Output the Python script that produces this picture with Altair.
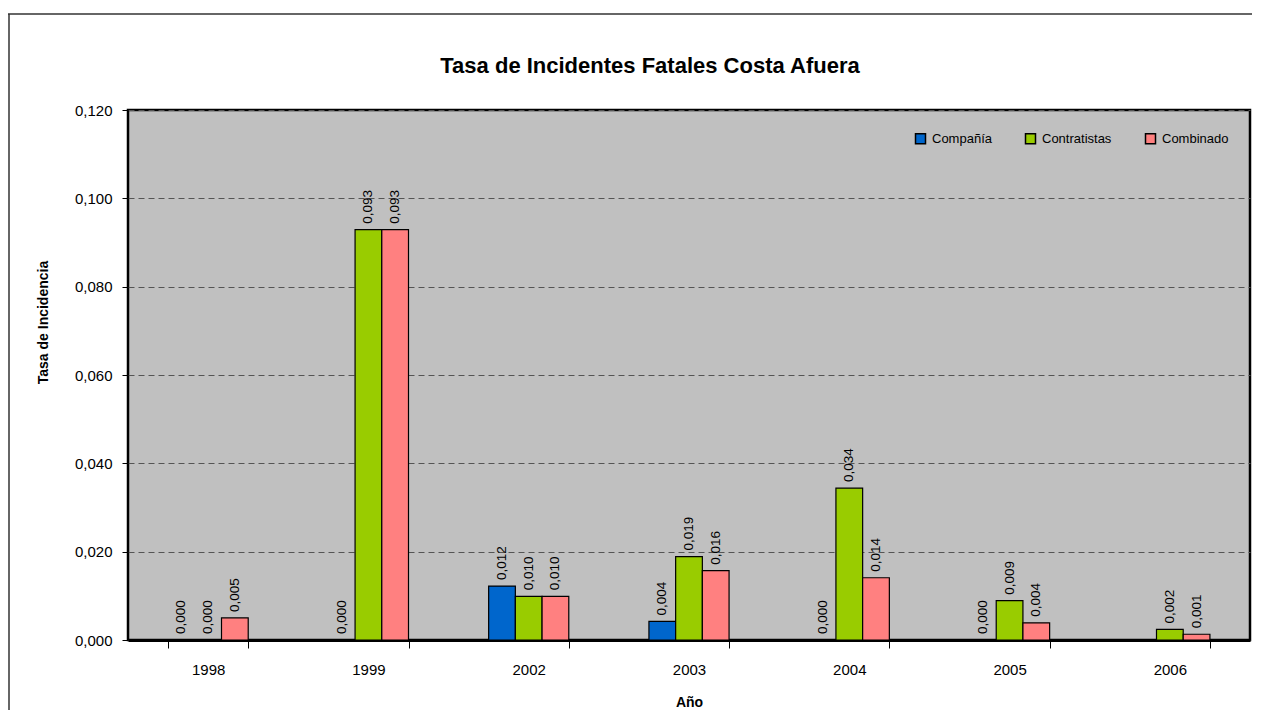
import altair as alt
import pandas as pd

years = ["1998", "1999", "2002", "2003", "2004", "2005", "2006"]
series = ["Compañía", "Contratistas", "Combinado"]
compania = [0.000, 0.000, 0.0122, 0.0042, 0.000, 0.000, None]
contratistas = [0.000, 0.0929, 0.0099, 0.0189, 0.0344, 0.0089, 0.0024]
combinado = [0.0050, 0.0929, 0.0099, 0.0157, 0.0141, 0.0039, 0.0013]
colors = ["#0066CC", "#99CC00", "#FF8080"]
y_ticks = [0.0, 0.02, 0.04, 0.06, 0.08, 0.10, 0.12]
title_text = "Tasa de Incidentes Fatales Costa Afuera"

rows = []
for name, vals in zip(series, [compania, contratistas, combinado]):
    for yr, v in zip(years, vals):
        rows.append({
            "Año": yr,
            "Serie": name,
            "Tasa": v,
            "label": None if v is None else f"{v:.3f}".replace(".", ","),
        })
df = pd.DataFrame(rows)

FONT = "Liberation Sans Narrow, Arial Narrow, Liberation Sans, Arial, sans-serif"

x_enc = alt.X(
    "Año:N",
    sort=years,
    scale=alt.Scale(paddingInner=0.5, paddingOuter=0.25),
    axis=alt.Axis(
        title="Año",
        labelAngle=0,
        tickBand="extent",
        tickSize=8,
        tickColor="black",
        domainColor="black",
        domainWidth=3,
        labelPadding=14,
        titlePadding=18,
        labelFontSize=15,
        titleFontSize=14,
        titleFontWeight="bold",
        grid=False,
    ),
)
y_enc = alt.Y(
    "Tasa:Q",
    scale=alt.Scale(domain=[0, 0.12], nice=False),
    axis=alt.Axis(
        title="Tasa de Incidencia",
        values=y_ticks,
        labelExpr="replace(format(datum.value, '.3f'), '.', ',')",
        tickSize=6,
        tickColor="black",
        domain=False,
        labelPadding=10,
        labelFontSize=15,
        titleFontSize=14,
        titleFontWeight="bold",
        titleX=-85,
        titleY=212,
        titleBaseline="middle",
        titleAlign="center",
        titleAngle=270,
        grid=True,
        gridColor="#555555",
        gridDash=[6, 4],
        gridWidth=1,
    ),
)

bars = alt.Chart(df).mark_bar(stroke="black", strokeWidth=1.2).encode(
    x=x_enc,
    y=y_enc,
    xOffset=alt.XOffset("Serie:N", sort=series),
    color=alt.Color(
        "Serie:N",
        scale=alt.Scale(domain=series, range=colors),
        legend=alt.Legend(
            title=None,
            orient="none",
            direction="horizontal",
            legendX=786,
            legendY=22,
            symbolType="square",
            symbolSize=100,
            symbolStrokeColor="black",
            symbolStrokeWidth=1.5,
            symbolOpacity=1,
            labelFontSize=13,
            labelOffset=5,
            columnPadding=30,
            padding=0,
        ),
    ),
)

labels = alt.Chart(df).transform_filter("datum.Tasa != null").mark_text(
    angle=270, align="left", baseline="middle", dx=6, fontSize=13.5, font=FONT, color="black"
).encode(
    x=alt.X("Año:N", sort=years),
    y="Tasa:Q",
    xOffset=alt.XOffset("Serie:N", sort=series),
    text="label:N",
)

one = pd.DataFrame({"t": [title_text]})

frame_top = alt.Chart(one).mark_rule(stroke="#333333", strokeWidth=1.5).encode(
    x=alt.value(-120), x2=alt.value(1124), y=alt.value(-96)
)
frame_left = alt.Chart(one).mark_rule(stroke="#333333", strokeWidth=1.5).encode(
    x=alt.value(-119), y=alt.value(-96), y2=alt.value(600)
)

title = alt.Chart(one).mark_text(
    fontSize=22, fontWeight="bold", font=FONT, color="black", align="center", baseline="middle"
).encode(
    x=alt.value(522), y=alt.value(-44), text="t:N"
)

chart = alt.layer(frame_top, frame_left, title, bars, labels).properties(
    width=1122,
    height=530,
    autosize=alt.AutoSizeParams(type="none"),
    padding={"left": 120, "top": 102, "right": 8, "bottom": 70},
).configure(
    font=FONT,
    background="white",
).configure_view(
    fill="#C0C0C0", stroke="black", strokeWidth=2.5
).configure_axis(
    labelFont=FONT, titleFont=FONT, labelColor="black", titleColor="black"
).configure_legend(
    labelFont=FONT, labelColor="black"
)

chart.save("out.html", embed_options={"renderer": "svg", "actions": False})
